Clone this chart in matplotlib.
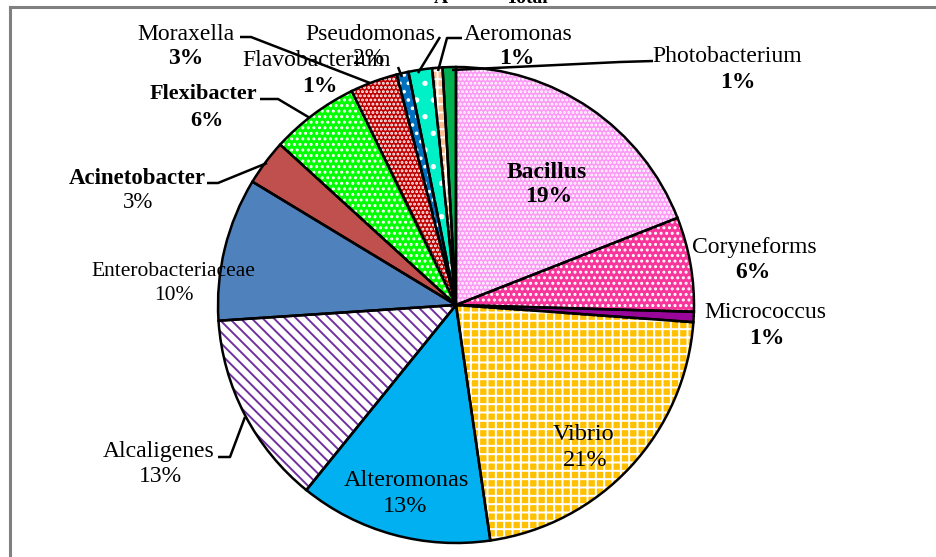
import matplotlib
matplotlib.use('Agg')
import matplotlib.pyplot as plt
from matplotlib.patches import Wedge

# bacterial genera, clockwise from 12 o'clock
genera = ['Bacillus', 'Coryneforms', 'Micrococcus', 'Vibrio', 'Alteromonas', 'Alcaligenes',
          'Enterobacteriaceae', 'Acinetobacter', 'Flexibacter', 'Moraxella', 'Flavobacterium',
          'Pseudomonas', 'Aeromonas', 'Photobacterium']
shares = [19.0, 6.4, 0.7, 21.5, 13.1, 13.1, 9.7, 3.1, 6.0, 3.2, 0.8, 1.6, 0.7, 0.9]
pct_labels = ['19%', '6%', '1%', '21%', '13%', '13%', '10%', '3%', '6%', '3%', '1%', '2%', '1%', '1%']

face_colors = ['#fb99f5', '#f8359a', '#99069a', '#ffc000', '#00b0f0', '#ffffff',
               '#4f81bd', '#c0504d', '#00ff00', '#c00000', '#0070c0',
               '#00f0c8', '#fac090', '#00b050']
hatches = ['....', '...', None, '++', None, '\\\\\\',
           None, None, '...', '....', '..', '.', '++', None]
hatch_colors = ['white', 'white', None, 'white', None, '#7030a0',
                None, None, 'white', 'white', 'white', 'white', 'white', None]

W, H = 937, 557
plt.rcParams['hatch.linewidth'] = 1.4
serif = ['Liberation Serif', 'DejaVu Serif']


def py(y):
    return H - y


fig = plt.figure(figsize=(W / 100, H / 100), dpi=100)
ax = fig.add_axes([0, 0, 1, 1])

cx, cy, r = 456, py(305), 238
wedges, _ = ax.pie(shares, startangle=90, counterclock=False, radius=r, center=(cx, cy),
                   colors=face_colors, wedgeprops=dict(linewidth=0))

for w, h, hc in zip(wedges, hatches, hatch_colors):
    if h:
        ax.add_patch(Wedge((cx, cy), r, w.theta1, w.theta2, facecolor='none',
                           edgecolor=hc, hatch=h, linewidth=0))
    ax.add_patch(Wedge((cx, cy), r, w.theta1, w.theta2, facecolor='none',
                       edgecolor='black', linewidth=1.8))

ax.set_xlim(0, W)
ax.set_ylim(0, H)
ax.set_aspect('auto')
ax.axis('off')

# label positions (pixels from top-left): name xy, percent xy, size, name bold, pct bold
label_pos = {
    'Bacillus': ((547, 173), (549, 197), 17, True, True),
    'Coryneforms': ((754, 247), (753, 272), 17, False, True),
    'Micrococcus': ((765, 312), (767, 339), 17, False, True),
    'Vibrio': ((584, 434), (585, 460), 17.5, False, False),
    'Alteromonas': ((406, 481), (405, 507), 17.5, False, False),
    'Alcaligenes': ((159, 451), (160, 476), 17, False, False),
    'Enterobacteriaceae': ((173, 272), (174, 296), 15.5, False, False),
    'Acinetobacter': ((137, 178), (138, 202), 16.5, True, False),
    'Flexibacter': ((203, 94), (207, 121), 16, True, True),
    'Moraxella': ((186, 35), (186, 58), 17, False, True),
    'Flavobacterium': ((317, 61), (320, 87), 17, False, True),
    'Pseudomonas': ((370, 35), (369, 58), 17, False, False),
    'Aeromonas': ((518, 35), (517, 58), 17, False, True),
    'Photobacterium': ((727, 56), (738, 83), 17, False, True),
}

for name, pct in zip(genera, pct_labels):
    (nx, ny), (px_, py_), fs, nb, pb = label_pos[name]
    ax.text(nx, py(ny), name, ha='center', va='center', fontsize=fs,
            fontweight='bold' if nb else 'normal', family=serif)
    ax.text(px_, py(py_), pct, ha='center', va='center', fontsize=fs,
            fontweight='bold' if pb else 'normal', family=serif)

# leader lines
leaders = [
    [(240, 37), (251, 37), (370, 83)],
    [(398, 67), (402, 77)],
    [(440, 37), (418, 73)],
    [(462, 38), (447, 38), (438, 71)],
    [(653, 61), (620, 62), (452, 70)],
    [(260, 99), (278, 99), (310, 118)],
    [(207, 183), (218, 183), (267, 163)],
    [(218, 457), (230, 457), (245, 417)],
]
for pts in leaders:
    xs = [p[0] for p in pts]
    ys = [py(p[1]) for p in pts]
    ax.plot(xs, ys, color='black', linewidth=1.8, solid_capstyle='butt')

# frame lines and clipped title remnant
ax.plot([10, W], [py(7), py(7)], color='#808080', linewidth=2.2, clip_on=False)
ax.plot([10, 10], [py(7), 0], color='#808080', linewidth=2.2, clip_on=False)
fig.text(441 / W, 1 - 3 / H, 'A', ha='center', va='baseline', fontsize=14,
         fontweight='bold', family=serif)
fig.text(527 / W, 1 - 3 / H, 'Total', ha='center', va='baseline', fontsize=14,
         fontweight='bold', family=serif)

fig.savefig('out.png', dpi=100)
